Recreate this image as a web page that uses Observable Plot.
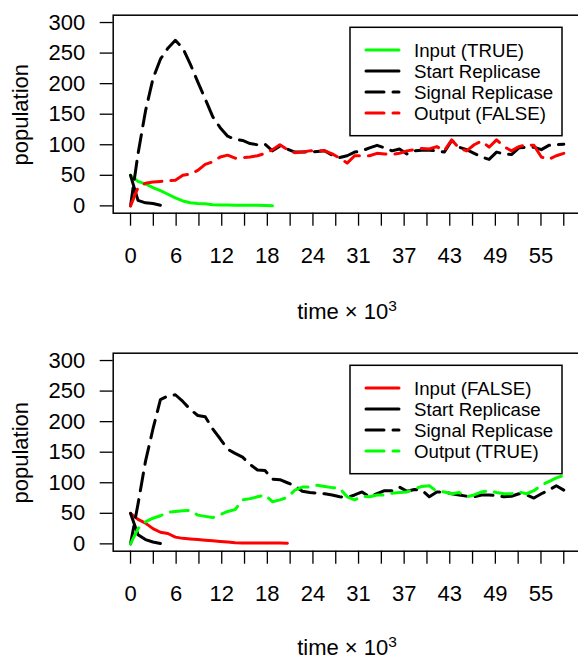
<!DOCTYPE html>
<html><head><meta charset="utf-8">
<script src="https://cdn.jsdelivr.net/npm/d3@7"></script>
<script src="https://cdn.jsdelivr.net/npm/@observablehq/plot@0.6"></script>
<style>body{margin:0;background:#fff;width:578px;overflow:hidden} svg{display:block}</style>
</head><body><div id="chart"></div>
<script>
// ---- data (time index in 10^3 units, population values) ----
const xTickLabels = ["0","6","12","18","24","31","37","43","49","55"];
const yTicks = [0, 50, 100, 150, 200, 250, 300];
const tMax = 58;

// Panel 1 : input TRUE
const inputTrue  = [50,40,36,30,25,19,13,8,5,4,3.5,2,1.5,1.5,1,1,1,1,0.5,0];
const startTrue  = [50,9,5,4,1];
const signalTrue = [0,85,155,208,240,258,271,258,232,203,175,146,128,114,109,107,102,100,101,90,
                    98,93,88,88,88,89,90,83,79,82,88,90,95,99,95,90,93,85,90,91,
                    91,90,88,107,96,92,86,80,76,88,85,84,95,96,96,92,99,100,101];
const outputFalse = [0,30,37,39,40,41,42,50,52,58,68,72,80,83,78,79,80,82,86,92,
                     100,92,87,88,90,90,90,85,78,70,82,82,82,86,85,84,86,90,92,94,
                     93,97,90,108,94,90,100,106,96,108,97,90,97,100,99,80,76,82,86];

// Panel 2 : input FALSE
const inputFalse  = [50,40,34,25,19,17,11,9,8,7,6,5,4,3,2,1.5,1.5,1.5,1.5,1.5,1.5,1];
const startFalse  = [50,15,7,3,0.5];
const signalFalse = [0,65,135,188,236,242,244,233,220,210,208,188,172,155,148,142,130,121,120,106,
                     105,100,95,86,84,83,82,80,77,76,80,85,77,82,87,87,93,86,89,88,
                     77,85,85,82,80,78,77,80,80,79,77,78,82,80,75,82,88,95,88];
const outputTrue  = [0,25,36,42,46,52,53,54,55,47,45,43,48,53,56,72,74,77,80,69,
                     72,76,88,93,93,96,94,92,91,77,72,78,77,80,80,83,84,85,90,94,
                     95,86,85,82,84,77,80,85,87,84,82,82,85,82,87,96,102,108,112];

const legend1 = ["Input (TRUE)", "Start Replicase", "Signal Replicase", "Output (FALSE)"];
const legend2 = ["Input (FALSE)", "Start Replicase", "Signal Replicase", "Output (TRUE)"];

// ---- styling ----
const FONT = "'Liberation Sans', Arial, Helvetica, sans-serif";
const GREEN = "#00ff00", RED = "#ff0000", BLACK = "#000000";
const SOLID = null, DASH = "18,9";

const xStep = tMax / 19;
const xTicks = d3.range(20).map(i => i * xStep);
const labelOf = d => { const i = Math.round(d / xStep); return i % 2 === 0 ? xTickLabels[i / 2] : ""; };

const toRows = arr => arr.map((v, i) => ({t: i, v}));

function panel(height, series, legendLabels, titleY) {
  const marks = [
    Plot.frame({stroke: "black", strokeWidth: 1.5}),
    Plot.axisY({ticks: yTicks, tickSize: 13, tickPadding: 15, label: null, strokeWidth: 1.3, fontSize: 22}),
    Plot.axisX({ticks: xTicks, tickSize: 13, tickPadding: 21, tickFormat: labelOf, label: null, strokeWidth: 1.3, fontSize: 22}),
    ...series.map(s => Plot.line(toRows(s.values), {
      x: "t", y: "v", stroke: s.color, strokeWidth: 3,
      strokeDasharray: s.dash, strokeLinecap: "round", strokeLinejoin: "round"
    }))
  ];
  const svg = Plot.plot({
    width: 578, height,
    marginLeft: 112.7, marginRight: -2.6, marginTop: 14.7, marginBottom: height - 212.7,
    x: {domain: [-0.04 * tMax, 1.04 * tMax]},
    y: {domain: [-12, 312]},
    style: {fontFamily: FONT, fontSize: "22px", background: "white", color: "black", overflow: "hidden"},
    marks
  });
  const s = d3.select(svg);
  // y label
  s.append("text").attr("transform", "translate(28,114.7) rotate(-90)")
    .attr("text-anchor", "middle").attr("font-family", FONT).attr("font-size", 22)
    .attr("fill", "black").text("population");
  // x label
  const tl = s.append("text").attr("x", 347).attr("y", titleY).attr("text-anchor", "middle")
    .attr("font-family", FONT).attr("font-size", 22).attr("fill", "black");
  tl.append("tspan").text("time \u00d7 10");
  tl.append("tspan").attr("dy", -8).attr("font-size", 15.5).text("3");
  // legend
  const g = s.append("g").attr("font-family", FONT).attr("font-size", 18.7).attr("text-anchor", "start");
  g.append("rect").attr("x", 350).attr("y", 27.3).attr("width", 212).attr("height", 108.4)
    .attr("fill", "white").attr("stroke", "black").attr("stroke-width", 1.5);
  const rowY = [50, 71, 92, 113];
  series.forEach((sr, i) => {
    g.append("line").attr("x1", 366).attr("x2", 399).attr("y1", rowY[i]).attr("y2", rowY[i])
      .attr("stroke", sr.color).attr("stroke-width", 3).attr("stroke-linecap", "round")
      .attr("stroke-dasharray", sr.dash);
    g.append("text").attr("x", 414).attr("y", rowY[i]).attr("dy", "0.35em")
      .attr("text-anchor", "start").attr("fill", "black").text(legendLabels[i]);
  });
  return svg;
}

const chart = document.getElementById("chart");
chart.append(panel(338, [
  {values: inputTrue, color: GREEN, dash: SOLID},
  {values: startTrue, color: BLACK, dash: SOLID},
  {values: signalTrue, color: BLACK, dash: DASH},
  {values: outputFalse, color: RED, dash: DASH}
], legend1, 319));
chart.append(panel(322, [
  {values: inputFalse, color: RED, dash: SOLID},
  {values: startFalse, color: BLACK, dash: SOLID},
  {values: signalFalse, color: BLACK, dash: DASH},
  {values: outputTrue, color: GREEN, dash: DASH}
], legend2, 316.5));
</script></body></html>
